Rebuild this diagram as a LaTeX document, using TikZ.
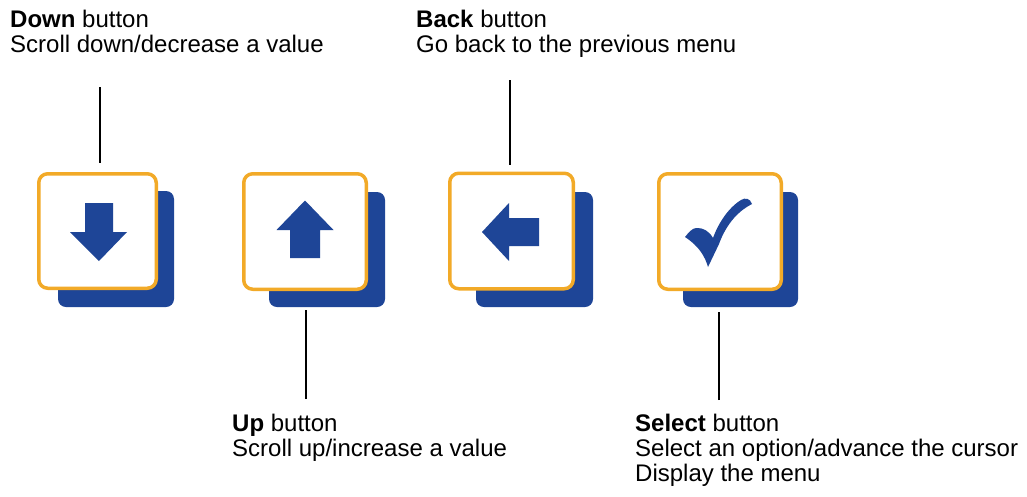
\documentclass[tikz,border=0pt]{standalone}
\usepackage{fontspec}
\setmainfont{Liberation Sans}
\definecolor{btnblue}{RGB}{30,69,151}
\definecolor{btnorange}{RGB}{242,170,40}
\tikzset{
  face/.style={draw=btnorange, line width=3.5pt, rounded corners=9pt, fill=white,
    inner sep=0pt, minimum width=122.5pt, minimum height=115.5pt},
  backing/.style={fill=btnblue, rounded corners=8pt, inner sep=0pt,
    minimum width=116pt, minimum height=115pt},
  label/.style={anchor=base west, inner sep=0pt, font=\fontsize{24}{25}\selectfont},
  leader/.style={draw=black, line width=2pt},
  glyph/.style={fill=btnblue}
}
\begin{document}
\begin{tikzpicture}[x=1pt, y=-1pt]
\useasboundingbox (0,0) rectangle (1027,496);

% blue backing plates
\node[backing, minimum width=116pt, minimum height=116pt] (downB) at (116,249) {};
\node[backing] (upB) at (327,249.5) {};
\node[backing, minimum width=117pt] (backB) at (534.5,249.5) {};
\node[backing, minimum width=115pt] (selB) at (740.5,249.5) {};

% white button faces with orange rims
\node[face, minimum width=117.5pt, minimum height=114.5pt] (down) at (97.5,231) {};
\node[face] (up) at (305,231.5) {};
\node[face, minimum width=123.5pt] (back) at (511.5,231) {};
\node[face] (sel) at (720,231.5) {};

% down arrow
\fill[glyph] (85,203) -- (113,203) -- (113,232) -- (127,232) -- (99,261)
  -- (70,232) -- (85,232) -- cycle;
% up arrow
\fill[glyph] (290,258) -- (320,258) -- (320,230) -- (333.5,230) -- (305,200.5)
  -- (276.5,230) -- (290,230) -- cycle;
% back arrow
\fill[glyph] (539,218) -- (539,246) -- (509,246) -- (509,261) -- (482,232)
  -- (509,203) -- (509,218) -- cycle;
% check mark
\fill[glyph] (685,237)
  .. controls (689,232) and (692,228.5) .. (696,228)
  .. controls (703,227.5) and (709,231) .. (713,238)
  .. controls (718,224) and (728,208) .. (741,200)
  .. controls (745,197.5) and (750,198) .. (752,204)
  .. controls (740,210) and (727,222) .. (719,244)
  -- (708,267)
  .. controls (705,257) and (700,247) .. (685,237) -- cycle;

% labels
\node[label] (downT) at (10,27) {\textbf{Down} button};
\node[label] (downD) at (10,52) {Scroll down/decrease a value};
\node[label] (backT) at (416,27) {\textbf{Back} button};
\node[label] (backD) at (416,52) {Go back to the previous menu};
\node[label] (upT) at (232,431) {\textbf{Up} button};
\node[label] (upD) at (232,456) {Scroll up/increase a value};
\node[label] (selT) at (635,431) {\textbf{Select} button};
\node[label] (selD) at (635,456) {Select an option/advance the cursor};
\node[label] (selE) at (635,481) {Display the menu};

% leader lines
\coordinate (downEnd) at (100,87);
\coordinate (backEnd) at (510,80);
\coordinate (upEnd) at (305.5,399);
\coordinate (selEnd) at (719,400);
\coordinate (downGap) at ([yshift=9pt]down.north);
\coordinate (backGap) at ([yshift=7pt]back.north);
\coordinate (upGap) at ([yshift=-3pt]upB.south);
\coordinate (selGap) at ([yshift=-5pt]selB.south);
\draw[leader] (downEnd) -- (downEnd |- downGap);
\draw[leader] (backEnd) -- (backEnd |- backGap);
\draw[leader] (upEnd) -- (upEnd |- upGap);
\draw[leader] (selEnd) -- (selEnd |- selGap);
\end{tikzpicture}
\end{document}
